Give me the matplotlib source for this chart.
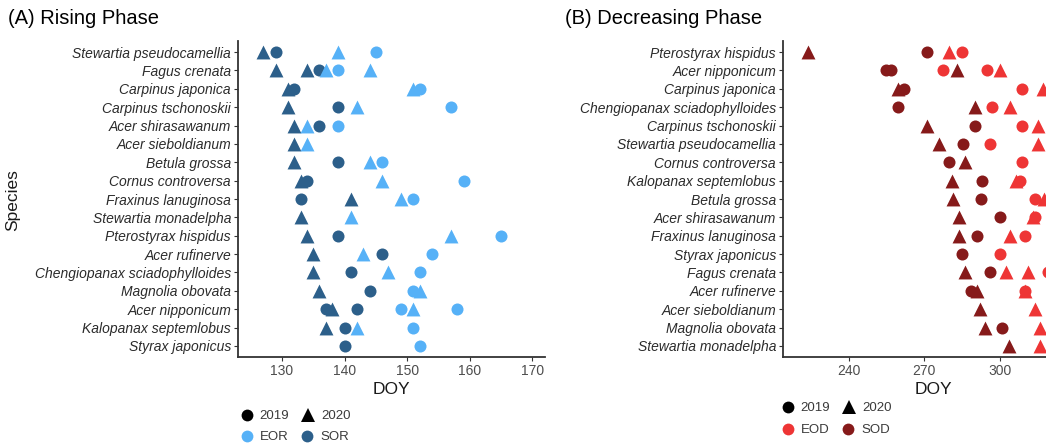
import matplotlib
matplotlib.use("Agg")
import matplotlib.pyplot as plt
from matplotlib.lines import Line2D

plt.rcParams["font.family"] = ["Liberation Sans", "DejaVu Sans"]

# --- (A) Rising phase: species top -> bottom, values per species (lists, may be empty) ---
rise_species = [
    "Stewartia pseudocamellia", "Fagus crenata", "Carpinus japonica",
    "Carpinus tschonoskii", "Acer shirasawanum", "Acer sieboldianum",
    "Betula grossa", "Cornus controversa", "Fraxinus lanuginosa",
    "Stewartia monadelpha", "Pterostyrax hispidus", "Acer rufinerve",
    "Chengiopanax sciadophylloides", "Magnolia obovata", "Acer nipponicum",
    "Kalopanax septemlobus", "Styrax japonicus",
]
rise_sor_2019 = [[129], [136], [132], [139], [136], [], [139], [134], [133], [],
                 [139], [146], [141], [144], [137, 142], [140], [140]]
rise_sor_2020 = [[127], [129, 134], [131], [131], [132], [132], [132], [133], [141], [133],
                 [134], [135], [135], [136], [138], [137], []]
rise_eor_2019 = [[145], [139], [152], [157], [139], [], [146], [159], [151], [],
                 [165], [154], [152], [151], [149, 158], [151], [152]]
rise_eor_2020 = [[139], [137, 144], [151], [142], [134], [134], [144], [146], [149], [141],
                 [157], [143], [147], [152], [151], [142], []]

# --- (B) Decreasing phase ---
dec_species = [
    "Pterostyrax hispidus", "Acer nipponicum", "Carpinus japonica",
    "Chengiopanax sciadophylloides", "Carpinus tschonoskii", "Stewartia pseudocamellia",
    "Cornus controversa", "Kalopanax septemlobus", "Betula grossa",
    "Acer shirasawanum", "Fraxinus lanuginosa", "Styrax japonicus",
    "Fagus crenata", "Acer rufinerve", "Acer sieboldianum",
    "Magnolia obovata", "Stewartia monadelpha",
]
dec_sod_2019 = [[271], [255, 257], [262], [259.5], [290], [285.5], [280], [293], [292.5],
                [300], [291], [285], [296], [288.5], [], [301], []]
dec_sod_2020 = [[224], [283], [259.5], [290], [271], [276], [286], [281], [281.5],
                [284], [284], [], [286], [291], [292], [294], [303.5]]
dec_eod_2019 = [[285], [277.5, 295], [309], [297], [309], [296], [309], [308], [314],
                [314], [310], [300], [319], [310], [], [], []]
dec_eod_2020 = [[280], [300], [317], [304], [315], [315], [], [306.5], [317.5],
                [313], [304], [], [302.5, 311], [310], [314], [316], [316]]

COL_EOR = "#56B1F7"
COL_SOR = "#2C5F8A"
COL_EOD = "#EE3535"
COL_SOD = "#861A1A"
TXT = "#2b2b2b"

W, H = 1046, 445
fig = plt.figure(figsize=(W / 100, H / 100), dpi=100)


def px_axes(x0, y0, x1, y1):
    return fig.add_axes([x0 / W, 1 - y1 / H, (x1 - x0) / W, (y1 - y0) / H])


def scatter_series(ax, species, values, marker, color, size):
    n = len(species)
    for i, vals in enumerate(values):
        for v in vals:
            ax.scatter(v, n - 1 - i, marker=marker, s=size, color=color,
                       linewidths=0, zorder=3)


def style_axes(ax, species, xlim, xticks):
    n = len(species)
    ax.set_xlim(*xlim)
    ax.set_ylim(-0.6, n - 0.4)
    ax.set_yticks(range(n))
    ax.set_yticklabels(species[::-1], fontstyle="italic", fontsize=10, color=TXT)
    ax.set_xticks(xticks)
    ax.set_xticklabels([str(t) for t in xticks], fontsize=10, color="#4d4d4d")
    for s in ("top", "right"):
        ax.spines[s].set_visible(False)
    for s in ("left", "bottom"):
        ax.spines[s].set_color("#333333")
        ax.spines[s].set_linewidth(1.3)
    ax.tick_params(length=3, width=0.8, color="#333333", pad=2)
    ax.set_xlabel("DOY", fontsize=12.5, color="#1a1a1a", labelpad=3)


# Panel A
axA = px_axes(238, 41, 545, 357)
scatter_series(axA, rise_species, rise_sor_2020, "^", COL_SOR, 100)
scatter_series(axA, rise_species, rise_sor_2019, "o", COL_SOR, 75)
scatter_series(axA, rise_species, rise_eor_2020, "^", COL_EOR, 100)
scatter_series(axA, rise_species, rise_eor_2019, "o", COL_EOR, 75)
style_axes(axA, rise_species, (123, 172), [130, 140, 150, 160, 170])

# Panel B (runs past the right edge of the figure, as in the reference crop)
axB = px_axes(783, 41, 1083, 357)
scatter_series(axB, dec_species, dec_sod_2020, "^", COL_SOD, 100)
scatter_series(axB, dec_species, dec_sod_2019, "o", COL_SOD, 75)
scatter_series(axB, dec_species, dec_eod_2020, "^", COL_EOD, 100)
scatter_series(axB, dec_species, dec_eod_2019, "o", COL_EOD, 75)
style_axes(axB, dec_species, (214, 333), [240, 270, 300])

fig.text(8 / W, 1 - 18 / H, "(A) Rising Phase", fontsize=14.5, va="center", ha="left")
fig.text(565 / W, 1 - 18 / H, "(B) Decreasing Phase", fontsize=14.5, va="center", ha="left")
fig.text(13 / W, 1 - 200 / H, "Species", fontsize=12.5, rotation=90,
         va="center", ha="center", color="#1a1a1a")


def mk(marker, color, ms):
    return Line2D([], [], linestyle="none", marker=marker, color=color,
                  markersize=ms, markeredgewidth=0)


def add_legend(handles, labels, x, y):
    leg = fig.legend(handles, labels, loc="center left",
                     bbox_to_anchor=(x / W, 1 - y / H), ncol=2, frameon=False,
                     fontsize=9.5, handlelength=1.0, handletextpad=0.5,
                     columnspacing=0.9, borderpad=0, borderaxespad=0)
    for t in leg.get_texts():
        t.set_color("#3a3a3a")
    return leg


year_h = [mk("o", "black", 8.5), mk("^", "black", 10)]
add_legend(year_h, ["2019", "2020"], 240, 416)
add_legend([mk("o", COL_EOR, 8.5), mk("o", COL_SOR, 8.5)], ["EOR", "SOR"], 240, 437)
add_legend(year_h, ["2019", "2020"], 781, 408)
add_legend([mk("o", COL_EOD, 8.5), mk("o", COL_SOD, 8.5)], ["EOD", "SOD"], 781, 430)

fig.savefig("out.png", dpi=100)
